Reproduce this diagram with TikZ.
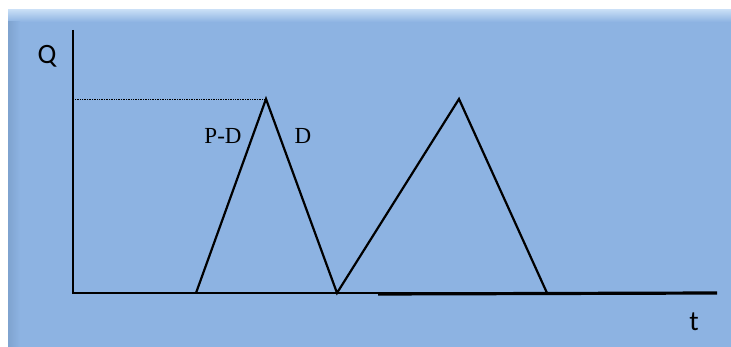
\documentclass[tikz,border=0pt]{standalone}
\usepackage{fontspec}
\setmainfont{Liberation Serif}
\newfontfamily\calib{Carlito}
\definecolor{panel}{HTML}{8DB3E2}
\definecolor{panellight}{HTML}{C6DDF5}
\definecolor{paneldark}{HTML}{7FA3CF}
\begin{document}
\begin{tikzpicture}[x=1pt,y=-1pt,
  curve/.style={line width=2.2pt,line join=miter},
  axis/.style={line width=2.2pt},
  guide/.style={densely dotted,line width=0.7pt},
  sanslabel/.style={font=\calib\fontsize{28}{28}\selectfont,inner sep=0pt},
  seriflabel/.style={font=\fontsize{23}{23}\selectfont,inner sep=0pt}]
\useasboundingbox (0,0) rectangle (731,347);
\fill[white] (0,0) rectangle (731,347);
\fill[panel] (8,10) rectangle (731,347);
\shade[top color=panellight,bottom color=panel] (8,10) rectangle (731,22);
\shade[left color=paneldark,right color=panel] (8,22) rectangle (20,347);
% axes
\coordinate (O) at (73,293);
\coordinate (Ytop) at (73,30);
\coordinate (Xend) at (717,293);
\coordinate (Xmid) at (378,294);
\draw[axis] (Ytop) -- (O) -- (Xend);
\draw[line width=3.2pt] (Xmid) -- (Xend);
% guide
\coordinate (G0) at (75,99);
\coordinate (P1) at (266,99);
\draw[guide] (G0) -- (P1);
% triangles
\coordinate (A) at (196,293);
\coordinate (B) at (337,293);
\coordinate (P2) at (459,99);
\coordinate (C) at (547,293);
\draw[curve] (A) -- (P1) -- (B) -- (P2) -- (C);
% labels
\node[sanslabel] (Q) at (47,56) {Q};
\node[sanslabel] (T) at (694,322) {t};
\node[seriflabel] (PD) at (223,136) {P-D};
\node[seriflabel] (D) at (303,136) {D};
\end{tikzpicture}
\end{document}
